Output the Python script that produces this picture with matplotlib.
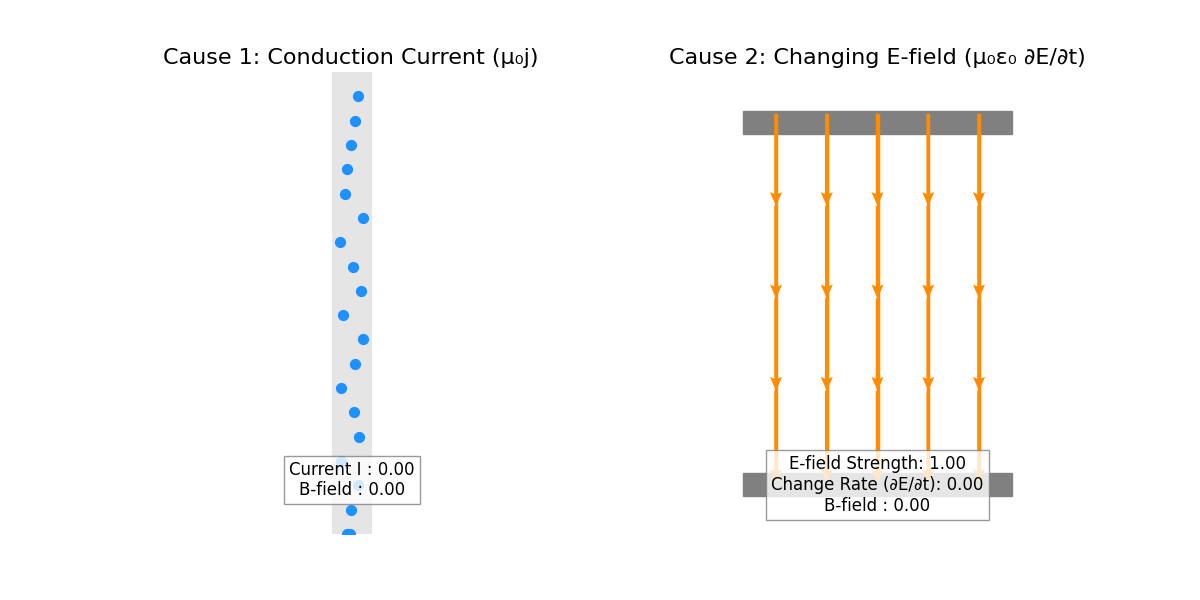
import numpy as np
import matplotlib.pyplot as plt
from matplotlib.patches import Rectangle

# charge carriers in the wire (left panel)
charge_x = [0.033, 0.020, 0.001, -0.018, -0.027, 0.056, -0.052, 0.011, 0.049, -0.037,
            0.056, 0.020, -0.046, 0.016, 0.040, -0.048, 0.035, 0.001, -0.019, -0.005]
charge_y = [9.48, 8.94, 8.42, 7.90, 7.36, 6.84, 6.32, 5.78, 5.26, 4.74,
            4.22, 3.68, 3.16, 2.64, 2.10, 1.58, 1.06, 0.52, 0.0, 0.0]
current_I = 0.00
b_field_1 = 0.00

# field lines between the plates (right panel)
line_x = [-0.5, -0.25, 0.0, 0.25, 0.5]
seg_start_y = [0.82, 0.42, 0.02, -0.38]
seg_len = 0.4
e_strength = 1.00
change_rate = 0.00
b_field_2 = 0.00

fig = plt.figure(figsize=(12, 6), dpi=100)
ax1 = fig.add_axes([0.1175, 0.11, 0.35, 0.77])
ax2 = fig.add_axes([0.5621, 0.11, 0.3383, 0.77])

# --- cause 1: conduction current
ax1.set_xlim(-1, 1)
ax1.set_ylim(0, 10)
ax1.add_patch(Rectangle((-0.09, 0), 0.19, 10, color='gray', alpha=0.2, lw=0))
ax1.scatter(charge_x, charge_y, s=50, color='dodgerblue')
ax1.text(0.005, 1.17, f'Current I : {current_I:.2f}\nB-field : {b_field_1:.2f}',
         ha='center', va='center', fontsize=12,
         bbox=dict(boxstyle='square', facecolor='white', edgecolor='gray', alpha=0.8))
ax1.set_title('Cause 1: Conduction Current (μ₀j)', fontsize=16)
ax1.axis('off')

# --- cause 2: changing E-field
ax2.set_xlim(-1, 1)
ax2.set_ylim(-1, 1)
ax2.add_patch(Rectangle((-0.665, 0.73), 1.33, 0.1, color='gray'))
ax2.add_patch(Rectangle((-0.665, -0.835), 1.33, 0.1, color='gray'))
top = seg_start_y[0]
bottom = seg_start_y[-1] - seg_len
ax2.vlines(line_x, bottom + 0.03, top, color='darkorange', lw=2.5)
X, Y = np.meshgrid(line_x, seg_start_y)
ax2.quiver(X, Y, np.zeros_like(X), -seg_len * np.ones_like(Y),
           angles='xy', scale_units='xy', scale=1, color='darkorange',
           width=0.0085, headwidth=3.5, headlength=4, headaxislength=3.5)
ax2.text(0.0, -0.788,
         f'E-field Strength: {e_strength:.2f}\nChange Rate (∂E/∂t): {change_rate:.2f}\nB-field : {b_field_2:.2f}',
         ha='center', va='center', fontsize=12,
         bbox=dict(boxstyle='square', facecolor='white', edgecolor='gray', alpha=0.8))
ax2.set_title('Cause 2: Changing E-field (μ₀ε₀ ∂E/∂t)', fontsize=16)
ax2.axis('off')

fig.savefig('out.png')
